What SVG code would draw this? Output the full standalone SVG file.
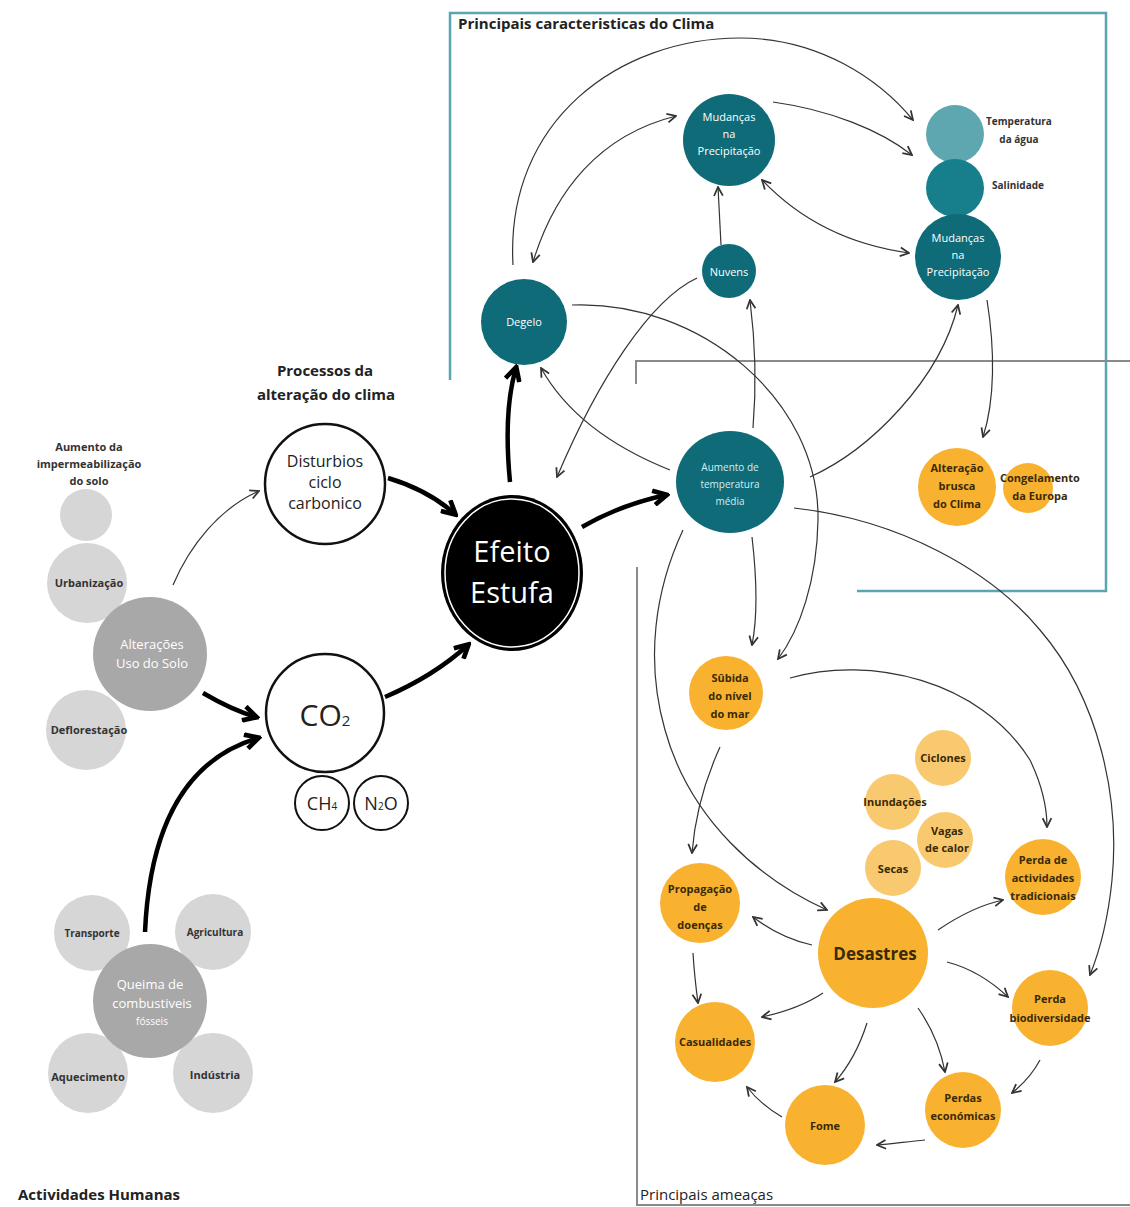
<svg xmlns="http://www.w3.org/2000/svg" width="1130" height="1207" viewBox="0 0 1130 1207">
<defs>
<style>
text{font-family:"Open Sans","Liberation Sans",sans-serif;text-anchor:middle}
.s{font-size:11px;font-weight:bold;fill:#333}
.sw{font-size:11px;font-weight:bold;fill:#fff}
.o{font-size:11px;font-weight:bold;fill:#3a2a05}
.h{font-size:15px;font-weight:bold;fill:#222}
.lg{fill:#d6d6d6}
.mg{fill:#a8a8a8}
.wc{fill:#fff;stroke:#111;stroke-width:2.5}
.t1{fill:#0f6b77}
.or{fill:#f8b230}
.ol{fill:#f9c970}
.c{fill:none;stroke:#333;stroke-width:1.2}
.k{fill:none;stroke:#000;stroke-width:4.5}
</style>
<marker id="a" viewBox="0 0 10 10" refX="9" refY="5" markerWidth="11" markerHeight="11" orient="auto-start-reverse" markerUnits="userSpaceOnUse"><path d="M1,1 L9,5 L1,9" fill="none" stroke="#333" stroke-width="1.6"/></marker>
<marker id="b" viewBox="0 0 10 10" refX="8" refY="5" markerWidth="18" markerHeight="18" orient="auto" markerUnits="userSpaceOnUse"><path d="M1,1 L8.5,5 L1,9" fill="none" stroke="#000" stroke-width="2.6"/></marker>
</defs>
<rect width="1130" height="1207" fill="#fff"/>

<g id="frames">
<path d="M450,380 V13 H1106 V591 H857" fill="none" stroke="#5aa5b0" stroke-width="2.5"/>
<path d="M636,384 V361 H1130 M637,567 V1205 H1130" fill="none" stroke="#8a8a8a" stroke-width="2"/>
</g>

<g id="labels">
<text class="h" x="458" y="29" style="text-anchor:start">Principais caracteristicas do Clima</text>
<text class="h" x="325" y="376">Processos da</text>
<text class="h" x="326" y="400">alteração do clima</text>
<text class="h" x="18" y="1200" style="text-anchor:start">Actividades Humanas</text>
<text class="h" x="640" y="1200" style="text-anchor:start;font-weight:normal">Principais ameaças</text>
</g>

<g id="connectors">
<path class="c" d="M173,585 C190,545 220,508 259,491" marker-end="url(#a)"/>
<path class="k" d="M203,693 Q232,710 256,717" marker-end="url(#b)"/>
<path class="k" d="M145,932 C150,820 190,758 258,738" marker-end="url(#b)"/>
<path class="k" d="M388,478 Q428,490 455,514" marker-end="url(#b)"/>
<path class="k" d="M385,697 C420,682 446,665 468,645" marker-end="url(#b)"/>
<path class="k" d="M510,482 C505,430 508,395 516,368" marker-end="url(#b)"/>
<path class="k" d="M582,527 Q620,505 666,495" marker-end="url(#b)"/>

<path class="c" d="M513,265 C505,120 620,38 740,38 C820,38 880,80 913,120" marker-end="url(#a)"/>
<path class="c" d="M533,262 C555,190 600,135 676,116" marker-start="url(#a)" marker-end="url(#a)"/>
<path class="c" d="M773,102 C830,110 880,130 912,155" marker-end="url(#a)"/>
<path class="c" d="M762,180 C800,220 850,245 909,253" marker-start="url(#a)" marker-end="url(#a)"/>
<path class="c" d="M721,245 L718,187" marker-end="url(#a)"/>
<path class="c" d="M697,278 C650,300 598,380 557,477" marker-end="url(#a)"/>
<path class="c" d="M572,305 C700,300 820,400 818,520 C817,580 800,630 778,659" marker-end="url(#a)"/>
<path class="c" d="M753,428 C757,380 755,340 750,300" marker-end="url(#a)"/>
<path class="c" d="M810,477 C870,450 940,380 958,305" marker-end="url(#a)"/>
<path class="c" d="M987,300 C995,350 995,400 983,437" marker-end="url(#a)"/>
<path class="c" d="M670,470 C620,450 570,420 541,368" marker-end="url(#a)"/>
<path class="c" d="M752,537 C757,580 757,620 752,645" marker-end="url(#a)"/>
<path class="c" d="M683,530 C655,590 645,660 665,730 C690,820 760,880 827,910" marker-end="url(#a)"/>
<path class="c" d="M794,508 C900,520 990,570 1040,630 C1100,700 1120,800 1112,880 C1108,920 1100,950 1090,975" marker-end="url(#a)"/>

<path class="c" d="M720,747 C705,780 695,815 692,853" marker-end="url(#a)"/>
<path class="c" d="M790,678 C870,655 980,680 1030,760 C1042,785 1047,805 1047,827" marker-end="url(#a)"/>
<path class="c" d="M812,945 C790,940 770,930 753,917" marker-end="url(#a)"/>
<path class="c" d="M938,930 C960,915 980,905 1003,900" marker-end="url(#a)"/>
<path class="c" d="M947,962 C970,968 990,980 1008,997" marker-end="url(#a)"/>
<path class="c" d="M823,993 C805,1005 785,1012 762,1017" marker-end="url(#a)"/>
<path class="c" d="M867,1023 C860,1045 850,1065 835,1082" marker-end="url(#a)"/>
<path class="c" d="M918,1008 C930,1025 940,1045 945,1072" marker-end="url(#a)"/>
<path class="c" d="M693,953 C694,970 696,988 698,1003" marker-end="url(#a)"/>
<path class="c" d="M1040,1060 C1032,1075 1022,1085 1012,1093" marker-end="url(#a)"/>
<path class="c" d="M925,1140 C905,1142 890,1144 877,1145" marker-end="url(#a)"/>
<path class="c" d="M782,1117 C770,1110 757,1100 747,1087" marker-end="url(#a)"/>
</g>

<g id="n-aumento-solo"><text class="s" x="89" y="451">Aumento da</text><text class="s" x="89" y="468">impermeabilização</text><text class="s" x="89" y="485">do solo</text><circle class="lg" cx="86" cy="515" r="26"/></g>
<g id="n-urbanizacao"><circle class="lg" cx="87" cy="583" r="40"/><text class="s" x="89" y="587">Urbanização</text></g>
<g id="n-deflorestacao"><circle class="lg" cx="86" cy="730" r="40"/><text class="s" x="89" y="734">Deflorestação</text></g>
<g id="n-alteracoes"><circle class="mg" cx="150" cy="654" r="57"/><text class="sw" x="152" y="649" style="font-size:13px;font-weight:normal">Alterações</text><text class="sw" x="152" y="668" style="font-size:13px;font-weight:normal">Uso do Solo</text></g>

<g id="n-transporte"><circle class="lg" cx="92" cy="933" r="38"/><text class="s" x="92" y="937" style="font-size:10px">Transporte</text></g>
<g id="n-agricultura"><circle class="lg" cx="213" cy="932" r="38"/><text class="s" x="215" y="936" style="font-size:10px">Agricultura</text></g>
<g id="n-aquecimento"><circle class="lg" cx="88" cy="1073" r="40"/><text class="s" x="88" y="1081">Aquecimento</text></g>
<g id="n-industria"><circle class="lg" cx="213" cy="1073" r="40"/><text class="s" x="215" y="1079">Indústria</text></g>
<g id="n-queima"><circle class="mg" cx="150" cy="1001" r="57"/><text class="sw" x="150" y="989" style="font-size:13px;font-weight:normal">Queima de</text><text class="sw" x="152" y="1008" style="font-size:13px;font-weight:normal">combustiveis</text><text class="sw" x="152" y="1025" style="font-size:10px;font-weight:normal">fósseis</text></g>

<g id="n-disturbios"><circle class="wc" cx="325" cy="484" r="60"/><text x="325" y="467" style="font-size:16px;fill:#222">Disturbios</text><text x="325" y="488" style="font-size:16px;fill:#222">ciclo</text><text x="325" y="509" style="font-size:16px;fill:#222">carbonico</text></g>
<g id="n-co2"><circle class="wc" cx="325" cy="713" r="59"/><text x="325" y="726" style="font-size:30px;fill:#222">CO<tspan style="font-size:15px">2</tspan></text></g>
<g id="n-ch4"><circle class="wc" cx="322" cy="803" r="27" style="stroke-width:2"/><text x="322" y="810" style="font-size:18px;fill:#222">CH<tspan style="font-size:10px">4</tspan></text></g>
<g id="n-n2o"><circle class="wc" cx="381" cy="803" r="27" style="stroke-width:2"/><text x="381" y="810" style="font-size:18px;fill:#222">N<tspan style="font-size:10px">2</tspan>O</text></g>

<g id="n-efeito"><ellipse cx="512" cy="573" rx="71" ry="78" fill="#000"/><ellipse cx="512" cy="573" rx="67" ry="74" fill="none" stroke="#fff" stroke-width="1.5"/><text x="512" y="562" style="font-size:29px;fill:#fff">Efeito</text><text x="512" y="603" style="font-size:29px;fill:#fff">Estufa</text></g>

<g id="n-mudancas1"><circle class="t1" cx="729" cy="140" r="46"/><text class="sw" x="729" y="121" style="font-weight:normal">Mudanças</text><text class="sw" x="729" y="138" style="font-weight:normal">na</text><text class="sw" x="729" y="155" style="font-weight:normal">Precipitação</text></g>
<g id="n-temperatura"><circle cx="955" cy="134" r="29" fill="#5ea7b0"/><text class="s" x="1019" y="125" style="font-size:10px">Temperatura</text><text class="s" x="1019" y="143" style="font-size:10px">da água</text></g>
<g id="n-salinidade"><circle cx="955" cy="188" r="29" fill="#177f8b"/><text class="s" x="1018" y="189" style="font-size:10px">Salinidade</text></g>
<g id="n-mudancas2"><circle class="t1" cx="958" cy="257" r="43"/><text class="sw" x="958" y="242" style="font-weight:normal">Mudanças</text><text class="sw" x="958" y="259" style="font-weight:normal">na</text><text class="sw" x="958" y="276" style="font-weight:normal">Precipitação</text></g>
<g id="n-nuvens"><circle class="t1" cx="729" cy="271" r="27"/><text class="sw" x="729" y="276" style="font-weight:normal">Nuvens</text></g>
<g id="n-degelo"><circle class="t1" cx="524" cy="322" r="43"/><text class="sw" x="524" y="326" style="font-weight:normal">Degelo</text></g>
<g id="n-aumento"><ellipse class="t1" cx="730" cy="482" rx="54" ry="51"/><text x="730" y="471" style="font-size:10px;fill:#cfeef2">Aumento de</text><text x="730" y="488" style="font-size:10px;fill:#cfeef2">temperatura</text><text x="730" y="505" style="font-size:10px;fill:#cfeef2">média</text></g>

<g id="n-alteracao"><circle class="or" cx="957" cy="487" r="39"/><text class="o" x="957" y="472">Alteração</text><text class="o" x="957" y="490">brusca</text><text class="o" x="957" y="508">do Clima</text></g>
<g id="n-congelamento"><circle class="or" cx="1028" cy="488" r="25"/><text class="o" x="1040" y="482">Congelamento</text><text class="o" x="1040" y="500">da Europa</text></g>

<g id="n-subida"><circle class="or" cx="726" cy="693" r="37"/><text class="o" x="730" y="682">Sûbida</text><text class="o" x="730" y="700">do nível</text><text class="o" x="730" y="718">do mar</text></g>
<g id="n-ciclones"><circle class="ol" cx="943" cy="758" r="28"/><text class="o" x="943" y="762">Ciclones</text></g>
<g id="n-inundacoes"><circle class="ol" cx="893" cy="802" r="28"/><text class="o" x="895" y="806">Inundações</text></g>
<g id="n-vagas"><circle class="ol" cx="945" cy="840" r="28"/><text class="o" x="947" y="835">Vagas</text><text class="o" x="947" y="852">de calor</text></g>
<g id="n-secas"><circle class="ol" cx="893" cy="868" r="28"/><text class="o" x="893" y="873">Secas</text></g>
<g id="n-perda-actividades"><circle class="or" cx="1043" cy="877" r="38"/><text class="o" x="1043" y="864">Perda de</text><text class="o" x="1043" y="882">actividades</text><text class="o" x="1043" y="900">tradicionais</text></g>
<g id="n-propagacao"><circle class="or" cx="700" cy="903" r="40"/><text class="o" x="700" y="893">Propagação</text><text class="o" x="700" y="911">de</text><text class="o" x="700" y="929">doenças</text></g>
<g id="n-desastres"><circle class="or" cx="873" cy="953" r="55"/><text class="o" x="875" y="960" style="font-size:17px">Desastres</text></g>
<g id="n-casualidades"><circle class="or" cx="715" cy="1042" r="40"/><text class="o" x="715" y="1046">Casualidades</text></g>
<g id="n-perda-bio"><circle class="or" cx="1050" cy="1008" r="38"/><text class="o" x="1050" y="1003">Perda</text><text class="o" x="1050" y="1022">biodiversidade</text></g>
<g id="n-perdas-eco"><circle class="or" cx="963" cy="1110" r="38"/><text class="o" x="963" y="1102">Perdas</text><text class="o" x="963" y="1120">económicas</text></g>
<g id="n-fome"><circle class="or" cx="825" cy="1125" r="40"/><text class="o" x="825" y="1130">Fome</text></g>
</svg>
